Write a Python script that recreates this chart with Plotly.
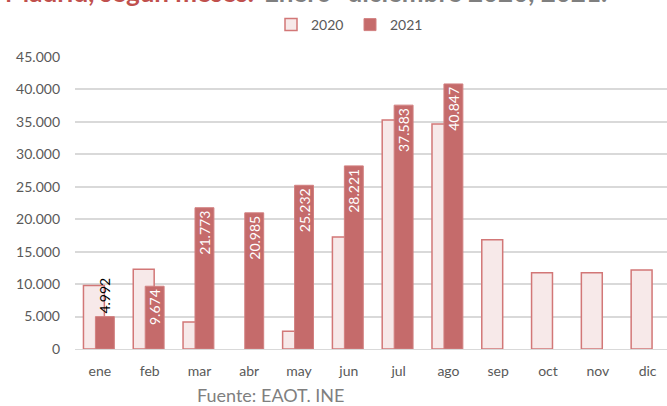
import plotly.graph_objects as go

months = ["ene", "feb", "mar", "abr", "may", "jun", "jul", "ago", "sep", "oct", "nov", "dic"]
v2020 = [9770, 12280, 4180, None, 2740, 17260, 35300, 34690, 16850, 11770, 11770, 12180]
v2021 = [4992, 9674, 21773, 20985, 25232, 28221, 37583, 40847, None, None, None, None]
labels2021 = ["4.992", "9.674", "21.773", "20.985", "25.232", "28.221", "37.583", "40.847", "", "", "", ""]
ytickvals = [0, 5000, 10000, 15000, 20000, 25000, 30000, 35000, 40000, 45000]
yticktext = ["0", "5.000", "10.000", "15.000", "20.000", "25.000", "30.000", "35.000", "40.000", "45.000"]

FONT = "Lato"
GRAY = "#595959"
RED = "#C56B6B"

# layout in pixels
W, H = 667, 406
ml, mt = 75, 57
plot_bottom = 349.5
mb = H - plot_bottom
plot_h = plot_bottom - mt
plot_w = W - ml

def px_to_paper_x(px):
    return (px - ml) / plot_w

def px_to_paper_y(py):
    return (plot_bottom - py) / plot_h

fig = go.Figure()
fig.add_trace(go.Bar(
    name="2020", x=months, y=v2020,
    offset=-0.33, width=0.42,
    marker=dict(color="#F7E9E9", line=dict(color="#D27777", width=1.5)),
    hoverinfo="x+y",
))
pos = ["outside"] + ["inside"] * 11
fig.add_trace(go.Bar(
    name="2021", x=months, y=v2021,
    offset=-0.09, width=0.38,
    marker=dict(color=RED, line=dict(color="#D28080", width=1)),
    text=labels2021, textposition=pos, textangle=-90,
    insidetextanchor="end",
    insidetextfont=dict(color="white", size=14, family=FONT),
    outsidetextfont=dict(color="black", size=14, family=FONT),
    constraintext="none", cliponaxis=False,
))

fig.update_layout(
    width=W, height=H,
    margin=dict(l=ml, r=0, t=mt, b=mb, pad=0, autoexpand=False),
    barmode="overlay",
    plot_bgcolor="white", paper_bgcolor="white",
    font=dict(family=FONT, color=GRAY, size=13),
    showlegend=True,
    legend=dict(orientation="h", xref="container", yref="container",
                x=350 / W, xanchor="center",
                y=1 - 9 / H, yanchor="top",
                font=dict(size=14, color=GRAY, family=FONT),
                itemwidth=30, entrywidth=34, entrywidthmode="pixels",
                tracegroupgap=0, bgcolor="rgba(0,0,0,0)"),
    xaxis=dict(type="category", range=[-0.5, 11.39], showgrid=False, automargin=False,
               showline=True, linecolor="#D9D9D9", linewidth=1,
               tickfont=dict(size=14, color=GRAY), ticks="", ticklabelstandoff=9),
    yaxis=dict(range=[0, 45000], tickvals=ytickvals, ticktext=yticktext, automargin=False,
               showgrid=True, gridcolor="#D9D9D9", gridwidth=1.5,
               zeroline=False, showline=False, ticks="",
               tickfont=dict(size=14, color=GRAY), ticklabelstandoff=14),
)

title_y = px_to_paper_y(9.5)
fig.add_annotation(text="<b>de Madrid, según meses.</b>", xref="paper", yref="paper",
                   x=px_to_paper_x(256), y=title_y, xanchor="right", yanchor="bottom",
                   showarrow=False, font=dict(size=26, color="#C0504D", family=FONT))
fig.add_annotation(text="<b>Enero- diciembre 2020, 2021.</b>", xref="paper", yref="paper",
                   x=px_to_paper_x(262), y=title_y, xanchor="left", yanchor="bottom",
                   showarrow=False, font=dict(size=26, color="#7F7F7F", family=FONT))
fig.add_annotation(text="Fuente: EAOT. INE", xref="paper", yref="paper",
                   x=px_to_paper_x(270), y=px_to_paper_y(396), xanchor="center", yanchor="middle",
                   showarrow=False, font=dict(size=18, color="#7F7F7F", family=FONT))

fig.write_html("out.html", post_script="document.body.style.margin='0px';",
               config={"displayModeBar": False})
